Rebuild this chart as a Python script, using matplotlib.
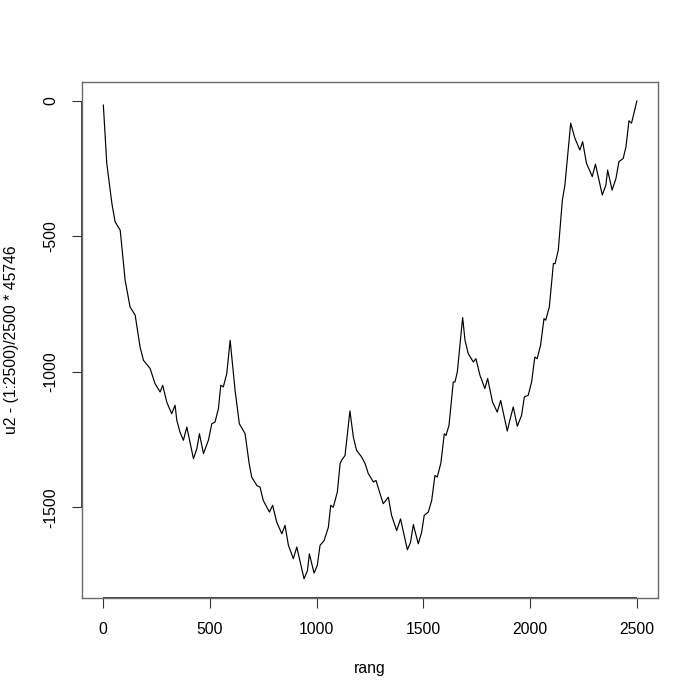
import matplotlib
matplotlib.use("Agg")
import matplotlib.pyplot as plt

rang = [1, 17, 41, 56, 80, 103, 126, 150, 173, 189, 220, 243, 267, 279, 298, 321, 337, 345,
        360, 376, 392, 423, 439, 451, 470, 493, 509, 524, 540, 551, 563, 579, 595, 618, 638,
        665, 684, 696, 720, 735, 750, 779, 794, 813, 837, 852, 868, 891, 907, 941, 957, 966,
        988, 1003, 1016, 1035, 1055, 1066, 1078, 1097, 1110, 1117, 1133, 1156, 1172, 1187,
        1211, 1227, 1242, 1266, 1278, 1297, 1312, 1336, 1351, 1375, 1393, 1425, 1440, 1453,
        1476, 1492, 1504, 1523, 1539, 1554, 1565, 1582, 1598, 1606, 1620, 1640, 1648, 1659,
        1684, 1695, 1710, 1734, 1746, 1765, 1788, 1801, 1824, 1846, 1862, 1893, 1905, 1921,
        1940, 1960, 1973, 1991, 2007, 2022, 2033, 2049, 2065, 2073, 2090, 2109, 2117, 2132,
        2151, 2163, 2190, 2210, 2233, 2246, 2264, 2291, 2306, 2338, 2355, 2363, 2384, 2402,
        2416, 2436, 2449, 2463, 2475, 2500]
vals = [-15, -230, -378, -446, -477, -661, -760, -790, -908, -957, -987, -1043, -1074, -1049,
        -1111, -1154, -1123, -1178,
        -1222, -1252, -1203, -1320, -1283, -1228, -1301, -1252, -1191, -1185, -1135, -1049,
        -1055, -1006, -883, -1068, -1191,
        -1228, -1338, -1388, -1419, -1425, -1474, -1517, -1492, -1554, -1597, -1566, -1640,
        -1689, -1646, -1763, -1733, -1671,
        -1742, -1714, -1640, -1622, -1573, -1492, -1499, -1443, -1338, -1326, -1308, -1144,
        -1240, -1289,
        -1314, -1338, -1375, -1406, -1400, -1449, -1486, -1462, -1529, -1585, -1542, -1656,
        -1628, -1563,
        -1634, -1591, -1529, -1517, -1474, -1382, -1388, -1336, -1228, -1234, -1197, -1037,
        -1037, -1000,
        -799, -883, -932, -963, -951, -1012, -1061, -1024, -1111, -1148, -1105, -1218, -1178,
        -1129,
        -1200, -1160, -1092, -1086, -1037, -945, -951, -901, -803, -809, -760, -600, -600, -550,
        -366, -310, -82, -138, -181, -150, -230, -279, -233, -347, -310, -255, -329, -286,
        -224, -212, -169, -73, -82, 0]

xticks = [0, 500, 1000, 1500, 2000, 2500]
yticks = [0, -500, -1000, -1500]

plt.rcParams['font.family'] = ['Liberation Sans', 'DejaVu Sans']

fig = plt.figure(figsize=(7, 7), dpi=100)
ax = fig.add_axes([82/700, 1 - 598/700, 576/700, 516/700])
ax.plot(rang, vals, color='black', lw=0.85)

ax.set_xlim(-99, 2599)
ax.set_ylim(-1834, 70)
ax.set_xticks(xticks)
ax.set_yticks(yticks)
ax.set_xticklabels([str(t) for t in xticks])
ax.set_yticklabels([str(t) for t in yticks])

for s in ax.spines.values():
    s.set_color('#6a6a6a')
    s.set_linewidth(1.0)

ax.tick_params(axis='both', length=7.2, width=0.8, color='#333333', labelsize=11.3, pad=10)
ax.tick_params(axis='y', labelrotation=90)
for lab in ax.get_yticklabels():
    lab.set_va('center')

# darker axis lines spanning first to last tick (as in R base graphics)
ax.plot([xticks[0], xticks[-1]], [0, 0], transform=ax.get_xaxis_transform(),
        color='#222222', lw=1.2, clip_on=False, solid_capstyle='butt')
ax.plot([0, 0], [yticks[-1], yticks[0]], transform=ax.get_yaxis_transform(),
        color='#222222', lw=1.2, clip_on=False, solid_capstyle='butt')

ax.set_xlabel('rang', fontsize=11.3)
ax.xaxis.set_label_coords(0.5, (598 - 668) / 516)
ax.xaxis.label.set_va('center')
ax.set_ylabel('u2 - (1:2500)/2500 * 45746', fontsize=11.3)
ax.yaxis.set_label_coords((12 - 82) / 576, 0.5)
ax.yaxis.label.set_va('center')
ax.yaxis.label.set_ha('center')

fig.savefig('out.png', dpi=100, facecolor='white')
